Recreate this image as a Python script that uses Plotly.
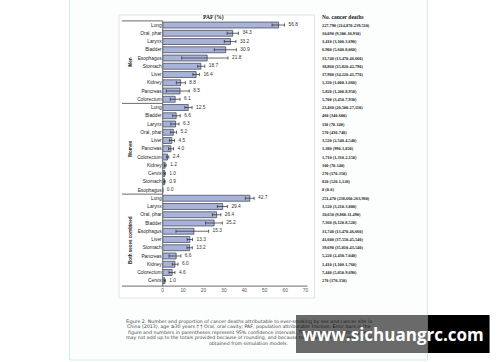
import plotly.graph_objects as go

# ---------------- data ----------------
men_sites = ["Lung", "Oral, phar", "Larynx", "Bladder", "Esophagus", "Stomach",
             "Liver", "Kidney", "Pancreas", "Colorectum"]
men_paf = [56.8, 34.3, 33.2, 30.9, 21.8, 18.7, 16.4, 8.8, 8.5, 6.1]
men_lo = [53.6, 31.6, 30.2, 25.3, 9.3, 17.2, 14.8, 6.7, 1.8, 3.7]
men_hi = [59.7, 37.1, 35.9, 36.1, 32.0, 20.6, 18.0, 11.1, 13.0, 8.5]
men_deaths = ["227,790 (214,870-239,510)", "10,090 (9,300-10,910)", "3,410 (3,100-3,690)",
              "6,900 (5,640-8,060)", "31,740 (13,470-46,660)", "38,860 (35,820-42,790)",
              "37,980 (34,220-41,770)", "1,320 (1,000-1,660)", "5,820 (1,200-8,950)",
              "5,700 (3,450-7,930)"]

women_sites = ["Lung", "Bladder", "Larynx", "Oral, phar", "Liver", "Pancreas",
               "Colorectum", "Kidney", "Cervix", "Stomach", "Esophagus"]
women_paf = [12.5, 6.6, 6.3, 5.2, 4.5, 4.0, 2.4, 1.2, 1.0, 0.9, 0.0]
women_lo = [10.9, 4.9, 4.0, 3.9, 3.3, 2.9, 1.8, 0.8, 0.6, 0.6, 0.0]
women_hi = [14.4, 8.6, 8.0, 6.8, 5.8, 5.3, 3.0, 1.7, 1.3, 1.2, 0.0]
women_deaths = ["23,460 (20,500-27,110)", "460 (340-600)", "110 (70-140)", "570 (430-740)",
                "3,520 (2,540-4,540)", "1,380 (990-1,820)", "1,710 (1,310-2,150)",
                "100 (70-140)", "270 (170-350)", "820 (520-1,120)", "0 (0-0)"]

both_sites = ["Lung", "Larynx", "Oral, phar", "Bladder", "Esophagus", "Liver", "Stomach",
              "Pancreas", "Kidney", "Colorectum", "Cervix"]
both_paf = [42.7, 29.4, 26.4, 25.2, 15.3, 13.3, 13.2, 6.6, 6.0, 4.6, 1.0]
both_lo = [40.5, 26.8, 24.4, 21.0, 6.5, 12.0, 11.9, 3.1, 4.7, 3.1, 0.6]
both_hi = [44.8, 31.7, 28.5, 29.2, 22.5, 14.6, 14.5, 8.9, 7.5, 6.0, 1.3]
both_deaths = ["251,470 (238,660-263,960)", "3,520 (3,210-3,800)", "10,650 (9,860-11,490)",
               "7,360 (6,120-8,520)", "31,740 (13,470-46,660)", "41,600 (37,550-45,540)",
               "39,690 (35,810-43,540)", "5,220 (2,430-7,040)", "1,410 (1,100-1,760)",
               "7,440 (5,050-9,690)", "270 (170-350)"]

groups = ["Men", "Women", "Both sexes combined"]
x_ticks = [0, 10, 20, 30, 40, 50, 60, 70]

caption_lines = [
    "Figure 2. Number and proportion of cancer deaths attributable to ever-smoking by sex and cancer site in",
    "China (2013), age \u226530 years.\u2020 \u2020 Oral, oral cavity; PAF, population attributable fraction. Error bars in the",
    "figure and numbers in parentheses represent 95% confidence intervals. The numbers of deaths by sex",
    "may not add up to the totals provided because of rounding, and because total numbers were separately",
    "obtained from simulation models.",
]
watermark = "www.sichuangrc.com"

# ---------------- build ----------------
sites = men_sites + women_sites + both_sites
paf = men_paf + women_paf + both_paf
lo = men_lo + women_lo + both_lo
hi = men_hi + women_hi + both_hi
deaths = men_deaths + women_deaths + both_deaths
rows = list(range(len(sites)))
group_sizes = [len(men_sites), len(women_sites), len(both_sites)]

W, H = 500, 362
def fx(p):
    return p / W
def fy(p):
    return 1 - p / H

fig = go.Figure()
fig.add_trace(go.Bar(
    y=rows, x=paf, orientation="h", width=0.72,
    marker=dict(color="#a9b3d8", line=dict(color="#3a3d52", width=0.7)),
    error_x=dict(type="data", symmetric=False,
                 array=[h - p for h, p in zip(hi, paf)],
                 arrayminus=[p - l for p, l in zip(paf, lo)],
                 color="#2a2a2a", thickness=0.7, width=1.6),
    hoverinfo="skip", showlegend=False,
))
fig.add_trace(go.Scatter(
    y=rows, x=hi, mode="text", text=[f"&nbsp;&nbsp;&nbsp;{v:.1f}" for v in paf],
    textposition="middle right",
    textfont=dict(family="Liberation Sans", size=4.8, color="#333"),
    hoverinfo="skip", showlegend=False, cliponaxis=False,
))

nrow = len(rows)
y_top_px, y_bot_px = 20.9, 286.1
x_left_px, x_right_px = 163, 307

fig.update_layout(
    width=W, height=H, margin=dict(l=0, r=0, t=0, b=0),
    paper_bgcolor="white", plot_bgcolor="rgba(0,0,0,0)",
    xaxis=dict(domain=[fx(x_left_px), fx(x_right_px)], range=[0, 70],
               tickvals=x_ticks, ticktext=[str(t) for t in x_ticks],
               showgrid=False, zeroline=False, showline=False, ticks="",
               tickfont=dict(family="Liberation Sans", size=4.8, color="#555")),
    yaxis=dict(domain=[fy(y_bot_px), fy(y_top_px)], range=[nrow - 0.35, -0.5],
               tickvals=rows, ticktext=sites, showgrid=False, zeroline=False,
               showline=False, ticks="",
               tickfont=dict(family="Liberation Sans", size=4.8, color="#222")),
    bargap=0.2,
)

shapes = []
shapes.append(dict(type="rect", xref="paper", yref="paper", x0=fx(69), x1=fx(430),
                   y0=fy(360), y1=fy(-2), fillcolor="#fcfdfd",
                   line=dict(color="#cfeeec", width=1), layer="below"))
shapes.append(dict(type="rect", xref="paper", yref="paper", x0=fx(119), x1=fx(316),
                   y0=fy(298), y1=fy(15), fillcolor="white",
                   line=dict(color="#e2e2e2", width=1), layer="below"))
line_style = dict(color="#6a6a6a", width=1)
shapes.append(dict(type="line", xref="paper", yref="paper", x0=fx(122), x1=fx(x_left_px),
                   y0=fy(y_top_px), y1=fy(y_top_px), line=line_style))
cum = 0
for g in group_sizes[:-1]:
    cum += g
    shapes.append(dict(type="line", xref="paper", yref="y", x0=fx(122), x1=fx(x_left_px),
                       y0=cum - 0.5, y1=cum - 0.5, line=line_style))
shapes.append(dict(type="line", xref="paper", yref="paper", x0=fx(122), x1=fx(309),
                   y0=fy(y_bot_px), y1=fy(y_bot_px), line=line_style))
shapes.append(dict(type="line", xref="paper", yref="paper", x0=fx(x_left_px), x1=fx(x_left_px),
                   y0=fy(y_bot_px), y1=fy(y_top_px), line=line_style))

annotations = []
annotations.append(dict(text="<b>PAF (%)</b>", xref="paper", yref="paper", x=fx(214), y=fy(12),
                        showarrow=False, font=dict(family="Liberation Serif", size=5.5, color="#222")))
annotations.append(dict(text="<b>No. cancer deaths</b>", xref="paper", yref="paper", x=fx(322),
                        y=fy(12), xanchor="left", showarrow=False,
                        font=dict(family="Liberation Serif", size=5.5, color="#222")))
for r, d in zip(rows, deaths):
    annotations.append(dict(text=f"<b>{d}</b>", xref="paper", yref="y", x=fx(322), y=r,
                            xanchor="left", showarrow=False,
                            font=dict(family="Liberation Serif", size=4.3, color="#222")))
start = 0
for g, n in zip(groups, group_sizes):
    annotations.append(dict(text=f"<b>{g}</b>", xref="paper", yref="y", x=fx(126),
                            y=start + (n - 1) / 2, textangle=-90, showarrow=False,
                            font=dict(family="Liberation Sans", size=4.6, color="#222")))
    start += n
for i, line in enumerate(caption_lines):
    annotations.append(dict(text=line, xref="paper", yref="paper", x=fx(249.5),
                            y=fy(326 + 5.4 * i), showarrow=False,
                            font=dict(family="DejaVu Sans", size=4.7, color="#444")))
# watermark: solid black part, then translucent box carrying the text
annotations.append(dict(text="&nbsp;", xref="paper", yref="paper", x=fx(430), y=fy(315),
                        xanchor="left", yanchor="top", width=61, height=38,
                        bgcolor="#000000", borderpad=0, borderwidth=0, showarrow=False,
                        font=dict(size=6, color="black")))
annotations.append(dict(text=f"<b>{watermark}</b>", xref="paper", yref="paper", x=fx(297),
                        y=fy(315), xanchor="left", yanchor="top", width=194, height=38,
                        align="center", valign="middle",
                        bgcolor="rgba(0,0,0,0.58)", borderpad=0, borderwidth=0,
                        showarrow=False, font=dict(family="Open Sans", size=17, color="white")))

fig.update_layout(shapes=shapes, annotations=annotations)
fig.write_html("out.html", config={"displayModeBar": False},
               post_script="document.body.style.margin='0';document.body.style.overflow='hidden';")
